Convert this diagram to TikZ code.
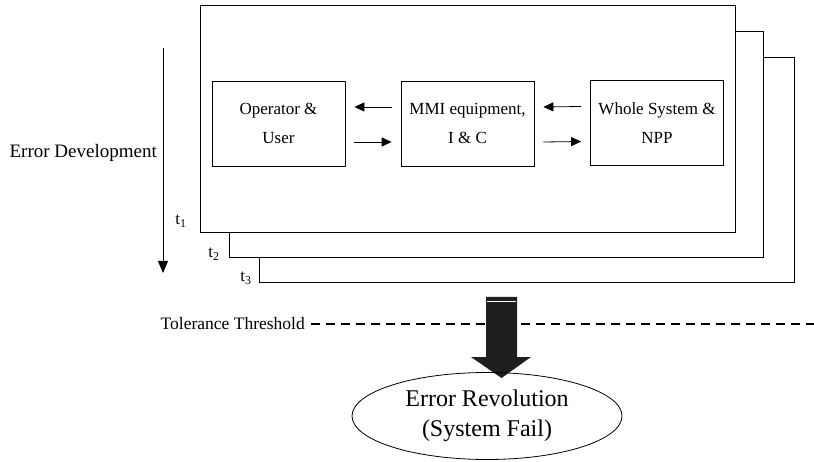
\documentclass[tikz,border=0pt]{standalone}
\usepackage{fontspec}
\setmainfont{Liberation Serif}
\usetikzlibrary{arrows.meta,shapes.geometric,calc}
\begin{document}
\begin{tikzpicture}[x=1pt,y=-1pt,
  frame/.style={draw=black,line width=0.9pt,fill=white},
  box/.style={draw=black,line width=0.8pt,minimum width=133pt,minimum height=85pt,inner sep=0pt,align=center,font=\fontsize{17}{29}\selectfont},
  arr/.style={line width=0.8pt,-{Triangle[length=10pt,width=9pt]}},
  lab/.style={inner sep=0pt,font=\fontsize{19}{22}\selectfont},
  tlab/.style={inner sep=0pt,font=\fontsize{17}{18}\selectfont},
  dark/.style={fill=black!88}
]
\useasboundingbox (0,0) rectangle (814,462);
% stacked frames
\draw[frame] (259,57) rectangle (794,282);
\draw[frame] (229,31) rectangle (763,257);
\draw[frame] (200,5) rectangle (735,232);
% inner boxes
\node[box] (op) at (278.5,123.5) {Operator \&\\User};
\node[box] (mmi) at (467.5,123.5) {MMI equipment,\\I \& C};
\node[box] (ws) at (657,123) {Whole System \&\\NPP};
% arrows between boxes
\draw[arr] ([xshift=-9pt,yshift=16.5pt]mmi.west) -- ([xshift=9pt,yshift=16.5pt]op.east);
\draw[arr] ([xshift=9pt,yshift=-18.5pt]op.east) -- ([xshift=-9pt,yshift=-18.5pt]mmi.west);
\draw[arr] ([xshift=-9pt,yshift=16.5pt]ws.west) -- ([xshift=9pt,yshift=16.5pt]mmi.east);
\draw[arr] ([xshift=9pt,yshift=-18.5pt]mmi.east) -- ([xshift=-9pt,yshift=-18.5pt]ws.west);
% time axis
\coordinate (ts) at (163,48);
\coordinate (te) at (163,273);
\draw[line width=1pt,-{Triangle[length=12pt,width=10pt]}] (ts) -- (te);
\node[lab,anchor=east] (ed) at (157,153) {Error Development};
\node[tlab] (t1) at (181,221) {t\textsubscript{1}};
\node[tlab] (t2) at (214,254) {t\textsubscript{2}};
\node[tlab] (t3) at (246,278) {t\textsubscript{3}};
% tolerance threshold
\node[inner sep=0pt,anchor=east,font=\fontsize{17.5}{20}\selectfont] (tol) at (305,324) {Tolerance Threshold};
\coordinate (tolend) at (814,324);
\draw[line width=2pt,dash pattern=on 9pt off 6pt] ([xshift=6pt]tol.east) -- (tolend);
% big arrow
\fill[dark] (486,297) -- (517,297) -- (517,357) -- (531,357) -- (501.5,378) -- (471,357) -- (486,357) -- cycle;
\draw[white,line width=0.8pt] (487,301) -- (516,301);
% ellipse
\node[draw=black,line width=0.8pt,ellipse,minimum width=270pt,minimum height=87pt,inner sep=0pt,align=center,font=\fontsize{24}{30}\selectfont] (er) at (487,416) {Error Revolution\\(System Fail)};
\end{tikzpicture}
\end{document}
